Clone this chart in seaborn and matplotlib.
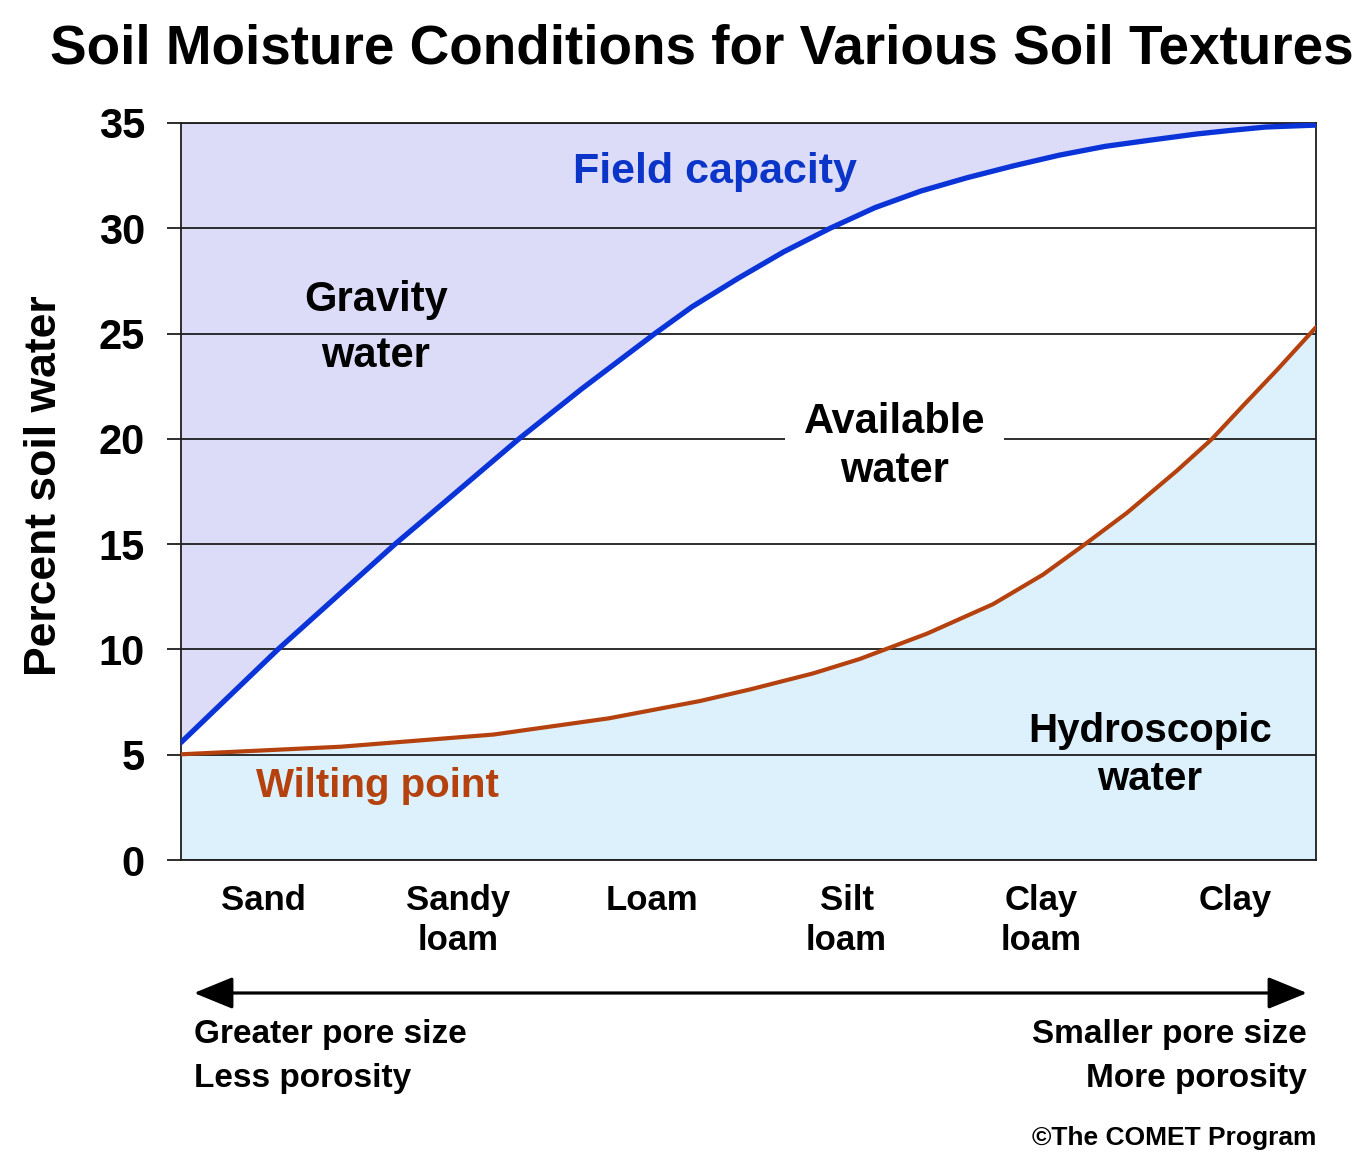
import matplotlib
matplotlib.use("Agg")
import matplotlib.pyplot as plt
import seaborn as sns
import pandas as pd

# ---------------- data ----------------
textures = ["Sand", "Sandy\nloam", "Loam", "Silt\nloam", "Clay\nloam", "Clay"]
texture_pos = [0, 1, 2, 3, 4, 5]
y_ticks = [0, 5, 10, 15, 20, 25, 30, 35]

# field capacity curve (percent soil water)
fc_x = [-0.427, 0.072, 0.675, 0.927, 1.313, 1.637, 2.013, 2.204, 2.441,
        2.678, 2.915, 3.146, 3.383, 3.620, 3.857, 4.094, 4.331, 4.567,
        4.804, 4.979, 5.160, 5.417]
fc_y = [5.58, 10.0, 15.0, 16.97, 20.0, 22.38, 25.0, 26.27, 27.62,
        28.89, 30.0, 30.98, 31.77, 32.40, 32.96, 33.47, 33.89, 34.19,
        34.48, 34.65, 34.81, 34.9]

# wilting point curve
wp_x = [-0.427, 0.396, 1.184, 1.777, 2.245, 2.503, 2.827, 3.069, 3.414,
        3.754, 4.011, 4.228, 4.444, 4.701, 4.882, 5.041, 5.216, 5.417]
wp_y = [5.02, 5.38, 5.96, 6.73, 7.55, 8.1, 8.86, 9.55, 10.75,
        12.15, 13.55, 15.0, 16.49, 18.49, 20.0, 21.57, 23.27, 25.3]

fc = pd.DataFrame({"x": fc_x, "y": fc_y})
wp = pd.DataFrame({"x": wp_x, "y": wp_y})

# ---------------- style ----------------
sns.set_theme(style="white")
plt.rcParams["font.family"] = ["Liberation Sans", "DejaVu Sans"]
plt.rcParams["font.weight"] = "bold"
plt.rcParams["text.color"] = "black"

W, H = 1359, 1157
fig = plt.figure(figsize=(W / 100, H / 100), dpi=100)
fig.patch.set_facecolor("white")

def fx(px):
    return px / W

def fy(py):
    return 1 - py / H

ax = fig.add_axes([fx(181), fy(860), (1316 - 181) / W, (860 - 123) / H])
ax.set_facecolor("white")

LAV = "#DCDCF8"
LBLUE = "#DCF1FB"
BLUE = "#0A34D8"
BROWN = "#B5420E"
GRID = "#1E1E1E"

ax.fill_between(fc["x"], fc["y"], 35, color=LAV, lw=0, zorder=0.5)
ax.fill_between(wp["x"], 0, wp["y"], color=LBLUE, lw=0, zorder=0.5)

sns.lineplot(data=fc, x="x", y="y", ax=ax, color=BLUE, lw=3.8, sort=False,
             zorder=3, legend=False)
sns.lineplot(data=wp, x="x", y="y", ax=ax, color=BROWN, lw=3.0, sort=False,
             zorder=3, legend=False)
for ln in ax.get_lines():
    ln.set_solid_joinstyle("round")
    ln.set_solid_capstyle("round")

ax.set_xlim(-0.427, 5.417)
ax.set_ylim(0, 35)
ax.set_axisbelow(False)
ax.grid(False)
for v in y_ticks:
    ax.axhline(v, color=GRID, lw=1.3, zorder=1)

ax.set_yticks(y_ticks)
ax.set_yticklabels([str(v) for v in y_ticks])
ax.set_xticks(texture_pos)
ax.set_xticklabels(textures, multialignment="center")
ax.tick_params(axis="y", which="major", length=10, width=1.3, color=GRID,
               direction="out", pad=16, labelsize=30, left=True)
ax.tick_params(axis="x", which="major", length=0, pad=17, labelsize=25)
for lab in ax.get_yticklabels() + ax.get_xticklabels():
    lab.set_fontweight("bold")
    lab.set_color("black")
for lab in ax.get_xticklabels():
    lab.set_linespacing(1.3)

ax.set_xlabel("")
ax.set_ylabel("")
for s in ["left", "right", "top", "bottom"]:
    ax.spines[s].set_visible(True)
    ax.spines[s].set_color(GRID)
    ax.spines[s].set_linewidth(1.3)

# ---------------- region labels ----------------
def dx(px):
    return (px - 264) / 194.2

def dv(py):
    return (860 - py) / 21.057

ax.text(dx(376), dv(311), "Gravity", ha="center", va="baseline",
        fontsize=30, fontweight="bold", color="black", zorder=5)
ax.text(dx(376), dv(367), "water", ha="center", va="baseline",
        fontsize=30, fontweight="bold", color="black", zorder=5)

ax.text(dx(715), dv(183), "Field capacity", ha="center", va="baseline",
        fontsize=31, fontweight="bold", color="#0B34C8", zorder=5)

ax.text(dx(895), dv(433), "Available", ha="center", va="baseline",
        fontsize=30, fontweight="bold", color="black", zorder=5,
        bbox=dict(boxstyle="square,pad=0.45", fc="white", ec="none"))
ax.text(dx(895), dv(482), "water", ha="center", va="baseline",
        fontsize=30, fontweight="bold", color="black", zorder=6)

ax.text(dx(1150), dv(742), "Hydroscopic", ha="center", va="baseline",
        fontsize=29, fontweight="bold", color="black", zorder=5)
ax.text(dx(1150), dv(790), "water", ha="center", va="baseline",
        fontsize=29, fontweight="bold", color="black", zorder=5)

ax.text(dx(377), dv(797), "Wilting point", ha="center", va="baseline",
        fontsize=29, fontweight="bold", color=BROWN, zorder=5)

# ---------------- figure texts ----------------
fig.text(fx(702), fy(63), "Soil Moisture Conditions for Various Soil Textures",
         ha="center", va="baseline", fontsize=39.5, fontweight="bold", color="black")
fig.text(fx(45), fy(486), "Percent soil water", rotation=90, ha="center",
         va="center", fontsize=32, fontweight="bold", color="black")

fig.patches.append(matplotlib.patches.FancyArrowPatch(
    (fx(194), fy(993)), (fx(1307), fy(993)), transform=fig.transFigure,
    arrowstyle="<|-|>,head_length=1.1,head_width=0.45", mutation_scale=22,
    lw=2.3, color="black", shrinkA=0, shrinkB=0))

fig.text(fx(194), fy(1043), "Greater pore size", ha="left", va="baseline",
         fontsize=24, fontweight="bold", color="black")
fig.text(fx(194), fy(1087), "Less porosity", ha="left", va="baseline",
         fontsize=24, fontweight="bold", color="black")
fig.text(fx(1307), fy(1043), "Smaller pore size", ha="right", va="baseline",
         fontsize=24, fontweight="bold", color="black")
fig.text(fx(1307), fy(1087), "More porosity", ha="right", va="baseline",
         fontsize=24, fontweight="bold", color="black")
fig.text(fx(1316), fy(1145), "\u00a9The COMET Program", ha="right", va="baseline",
         fontsize=19, fontweight="bold", color="black")

fig.savefig("out.png", dpi=100, facecolor="white")
